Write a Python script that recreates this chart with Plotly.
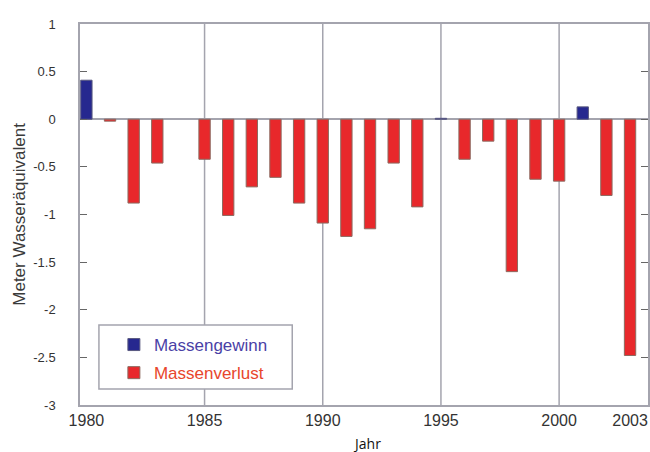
import plotly.graph_objects as go

# ---- data ----
years = list(range(1980, 2004))
balance = [0.41, -0.02, -0.88, -0.46, None, -0.42, -1.01, -0.71, -0.61, -0.88,
           -1.09, -1.23, -1.15, -0.46, -0.92, 0.01, -0.42, -0.23, -1.60, -0.63,
           -0.65, 0.13, -0.80, -2.48]
x_tick_vals = [1980, 1985, 1990, 1995, 2000, 2003]
x_tick_text = ["1980", "1985", "1990", "1995", "2000", "2003"]
y_tick_vals = [1, 0.5, 0, -0.5, -1, -1.5, -2, -2.5, -3]
y_tick_text = ["1", "0.5", "0", "-0.5", "-1", "-1.5", "-2", "-2.5", "-3"]
grid_years = [1985, 1990, 1995, 2000]

gain_x = [y for y, v in zip(years, balance) if v is not None and v > 0]
gain_v = [v for v in balance if v is not None and v > 0]
loss_x = [y for y, v in zip(years, balance) if v is not None and v <= 0]
loss_v = [v for v in balance if v is not None and v <= 0]

BLUE = "#26288f"
RED = "#e8282b"
EDGE = "#8c6a60"
AXIS = "#a4a4ae"

# plot area in page pixels
PL, PR, PT, PB = 80, 650, 24, 405
PW, PH = PR - PL, PB - PT
W, H = 650, 452

def px(xp):
    return (xp - PL) / PW

def py(yp):
    return (PB - yp) / PH

fig = go.Figure()
fig.add_trace(go.Bar(
    x=gain_x, y=gain_v, width=0.48, legendgroup="g",
    name="<span style='color:#4a3fa6'>Massengewinn</span>",
    marker=dict(color=BLUE, line=dict(color="#5a5a80", width=1)),
))
fig.add_trace(go.Bar(
    x=loss_x, y=loss_v, width=0.48, legendgroup="l",
    name="<span style='color:#e8462c'>Massenverlust</span>",
    marker=dict(color=RED, line=dict(color=EDGE, width=1)),
))

shapes = []
for gy in grid_years:
    shapes.append(dict(type="line", xref="x", yref="paper", x0=gy, x1=gy, y0=0, y1=1,
                       line=dict(color=AXIS, width=1.5), layer="below"))
# legend frame
shapes.append(dict(type="rect", xref="paper", yref="paper",
                   x0=px(99), x1=px(293), y0=py(389), y1=py(325),
                   line=dict(color=AXIS, width=1.5), fillcolor="white", layer="above"))

fig.update_layout(
    width=W, height=H,
    margin=dict(l=PL, r=W - PR, t=PT, b=H - PB),
    paper_bgcolor="white", plot_bgcolor="white",
    barmode="overlay",
    font=dict(family="Liberation Sans, Arial, sans-serif", color="#333333"),
    showlegend=True,
    legend=dict(x=px(114), y=py(327), xanchor="left", yanchor="top",
                bgcolor="rgba(0,0,0,0)", borderwidth=0,
                font=dict(size=17), traceorder="grouped", tracegroupgap=3),
    shapes=shapes,
    annotations=[
        dict(text="Meter Wasseräquivalent", xref="paper", yref="paper",
             x=px(19), y=0.5, textangle=-90, showarrow=False,
             xanchor="center", yanchor="middle",
             font=dict(size=17, color="#3a3a3a")),
        dict(text="Jahr", xref="paper", yref="paper",
             x=px(368), y=py(443), showarrow=False,
             xanchor="center", yanchor="middle",
             font=dict(size=14, color="#111111", family="Open Sans, sans-serif")),
    ],
)
fig.update_xaxes(range=[1979.73, 2003.76], tickvals=x_tick_vals, ticktext=x_tick_text,
                 showgrid=False, zeroline=False, showline=True, linecolor=AXIS,
                 linewidth=1.5, mirror=True, ticks="", tickfont=dict(size=16, color="#333333"))
fig.update_yaxes(range=[-3, 1], tickvals=y_tick_vals, ticktext=y_tick_text,
                 showgrid=False, zeroline=True, zerolinecolor=AXIS, zerolinewidth=1.5,
                 showline=True, linecolor=AXIS, linewidth=1.5, mirror="ticks",
                 ticks="inside", ticklen=7, tickcolor="#666666", tickwidth=1,
                 ticklabelstandoff=20, tickfont=dict(size=13, color="#333333"))

fig.write_html("out.html", config={"displayModeBar": False},
               post_script="document.body.style.margin='0';document.body.style.overflow='hidden';")
